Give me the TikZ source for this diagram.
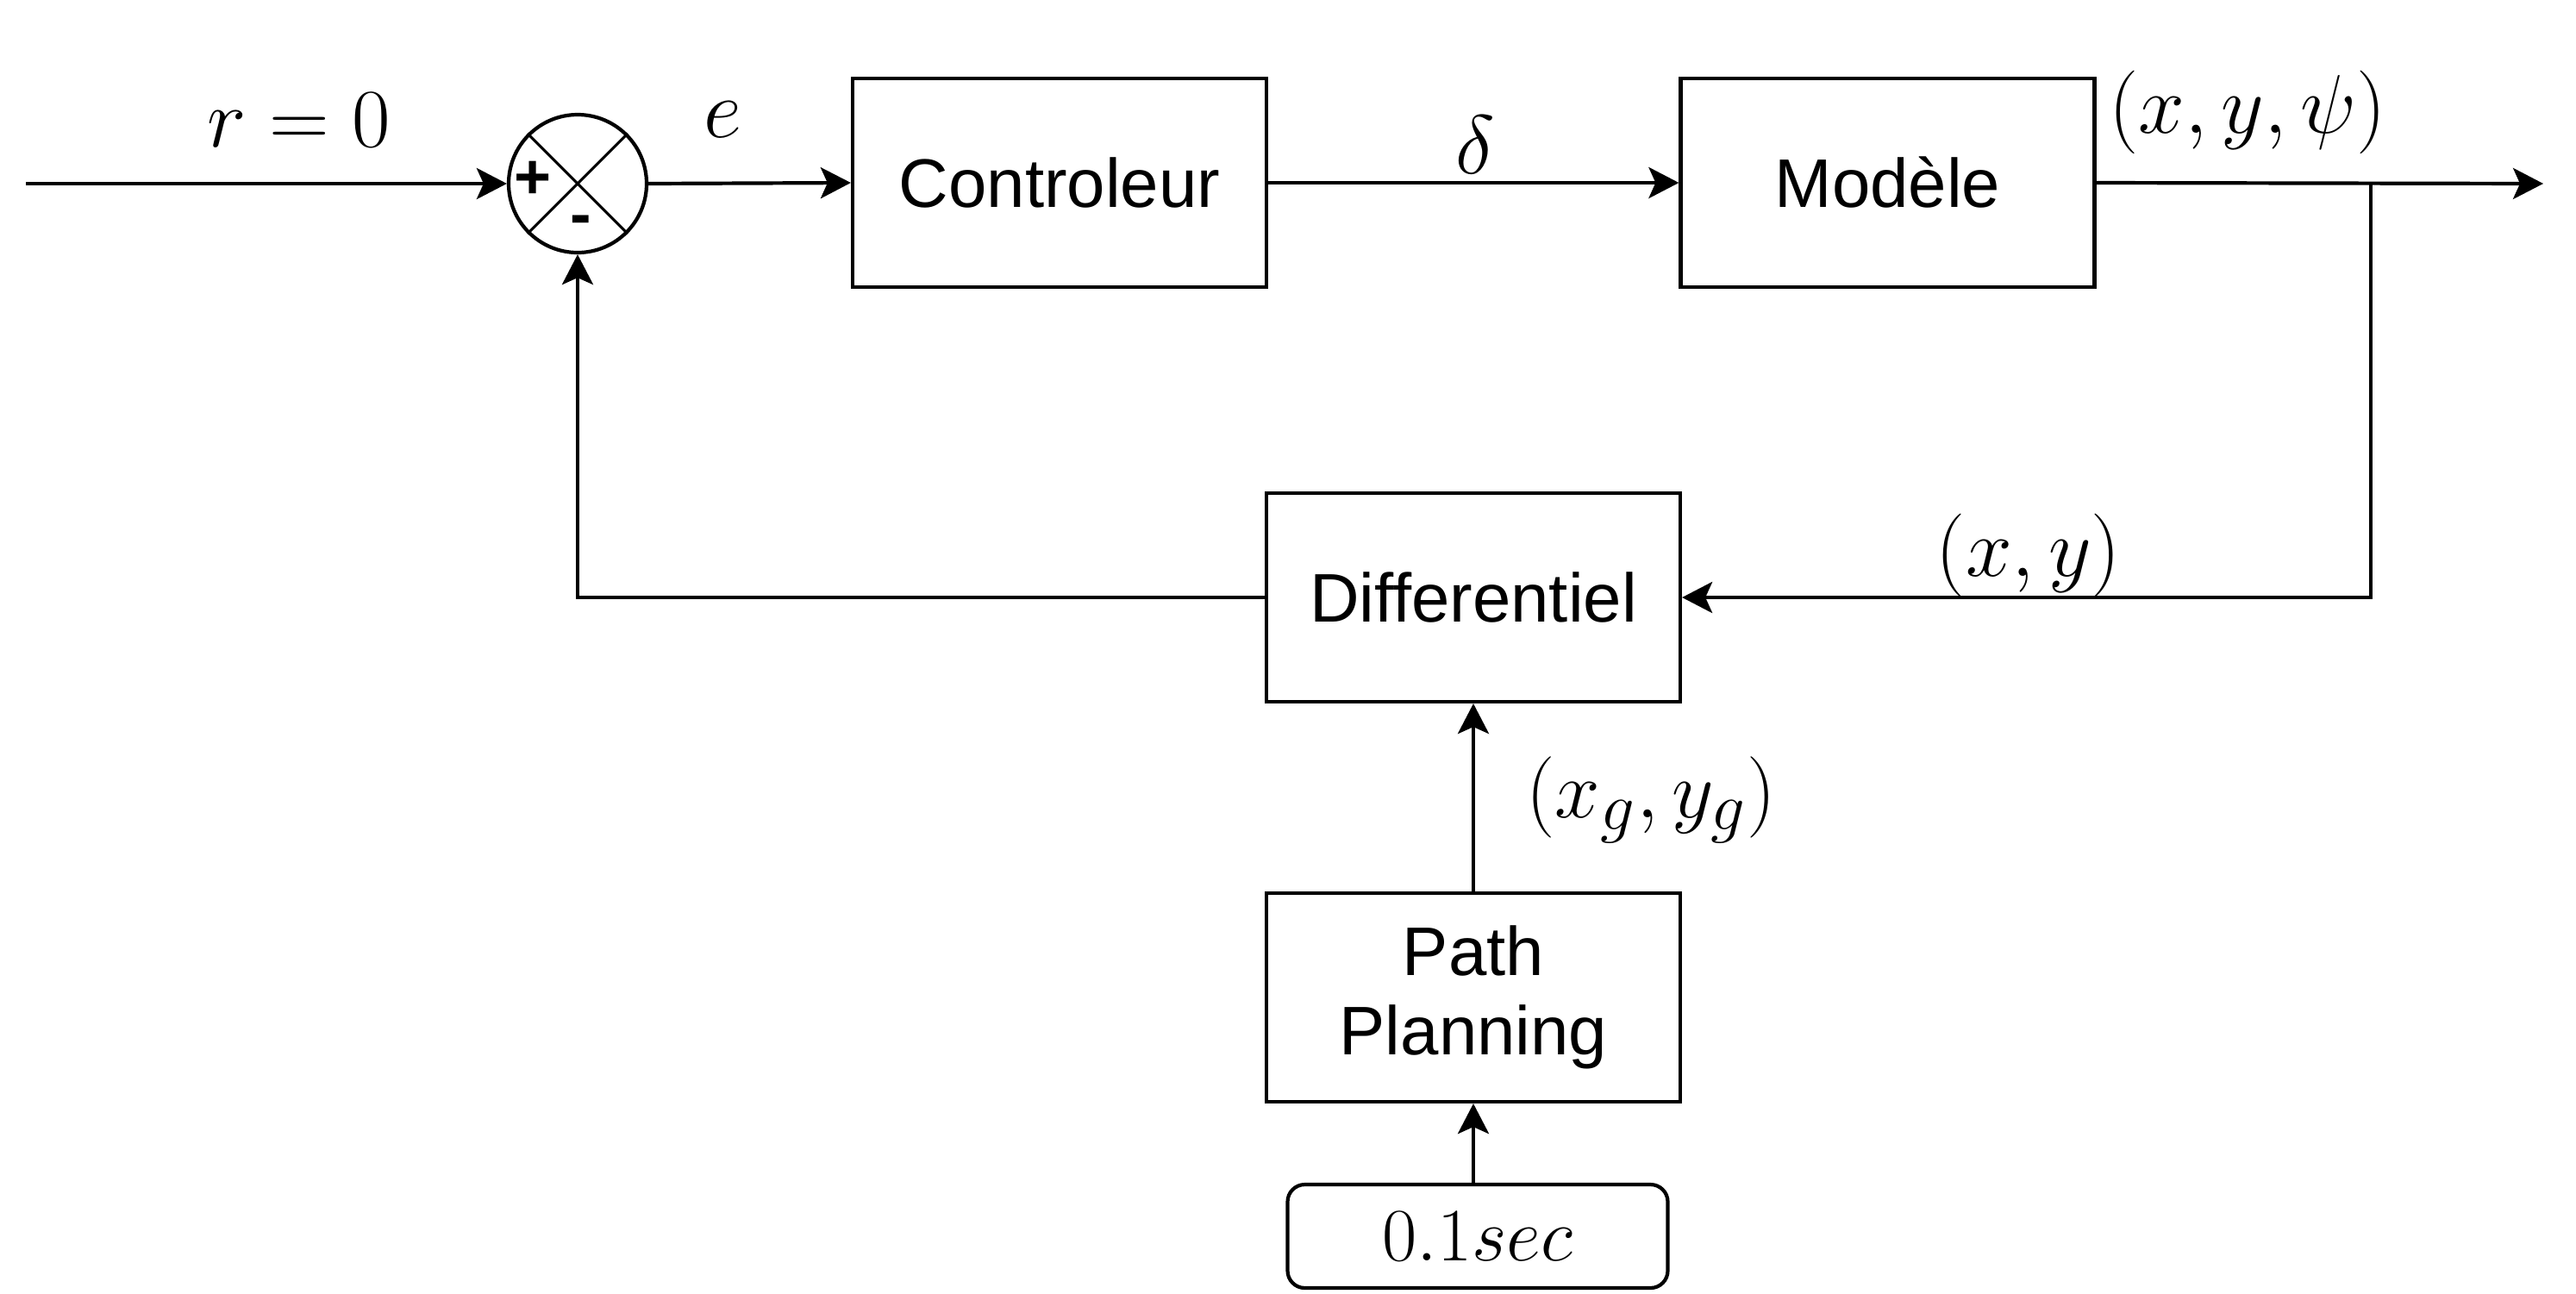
\documentclass[tikz,border=0pt]{standalone}
\usepackage{fontspec}
\setmainfont{Liberation Sans}
\usetikzlibrary{arrows.meta}
\begin{document}
\begin{tikzpicture}[
  x=1cm,y=1cm,
  line width=0.042cm,
  arr/.style={-{Stealth[length=0.35cm,width=0.36cm,inset=0.08cm]}},
  blockbox/.style={draw,rectangle,minimum width=4.80cm,minimum height=2.42cm,inner sep=0,align=center,font=\fontsize{22.7}{27.5}\selectfont},
  lbl/.style={inner sep=0,scale=1.105,font=\fontsize{24.88}{30}\selectfont},
  sign/.style={inner sep=0,anchor=base,font=\bfseries\fontsize{21}{24}\selectfont}
]
\useasboundingbox (0,0) rectangle (29.88,-15);
\coordinate (in) at (0.30,-2.13);
\node[draw,circle,minimum size=1.60cm,inner sep=0] (sum) at (6.70,-2.13) {};
\draw[line width=0.03cm] (sum.north west) -- (sum.south east);
\draw[line width=0.03cm] (sum.north east) -- (sum.south west);
\node[sign] (plus) at (6.18,-2.30) {+};
\node[sign] (minus) at (6.74,-2.73) {-};
\node[blockbox] (ctrl) at (12.29,-2.12) {Controleur};
\node[blockbox] (model) at (21.895,-2.12) {Modèle};
\node[blockbox] (diff) at (17.09,-6.93) {Differentiel};
\node[blockbox] (path) at (17.09,-11.57) {Path\\[-0.05cm]Planning};
\node[draw,rounded corners=0.2cm,minimum width=4.41cm,minimum height=1.20cm,inner sep=0,font=\fontsize{24.88}{28}\selectfont] (sec) at (17.14,-14.34) {$0.1sec$};
\coordinate (branch) at (27.50,-2.13);
\coordinate (out) at (29.50,-2.13);

\draw[arr] (in) -- (sum.west);
\draw[arr] (sum.east) -- (ctrl.west);
\draw[arr] (ctrl.east) -- (model.west);
\draw[arr] (model.east) -- (out);
\draw[arr] (branch) |- (diff.east);
\draw[arr] (diff.west) -| (sum.south);
\draw[arr] (path.north) -- (diff.south);
\draw[arr] (path.south |- sec.north) -- (path.south);

\node[lbl] (lr) at (3.47,-1.39) {$r=0$};
\node[lbl] (le) at (8.38,-1.39) {$e$};
\node[lbl] (ld) at (17.11,-1.68) {$\delta$};
\node[lbl] (lxyp) at (26.07,-1.30) {$(x,y,\psi)$};
\node[lbl] (lxy) at (23.53,-6.44) {$(x,y)$};
\node[lbl,scale=0.977] (lg) at (19.15,-9.28) {$(x_g,y_g)$};
\end{tikzpicture}
\end{document}
